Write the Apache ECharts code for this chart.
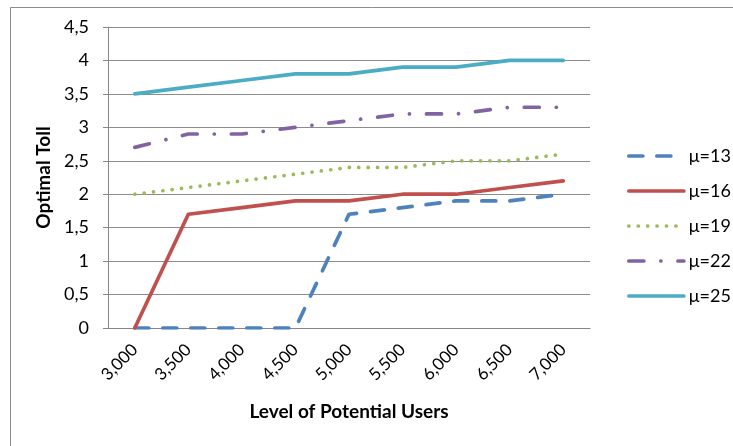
<!DOCTYPE html>
<html><head><meta charset="utf-8">
<script src="https://cdn.jsdelivr.net/npm/echarts@6/dist/echarts.min.js"></script>
<style>html,body{margin:0;padding:0;background:#fff}#c{width:733px;height:446px}</style>
</head><body><div id="c"></div>
<script>
const categories = ['3,000','3,500','4,000','4,500','5,000','5,500','6,000','6,500','7,000'];
const mu13 = [0, 0, 0, 0, 1.7, 1.8, 1.9, 1.9, 2.0];
const mu16 = [0, 1.7, 1.8, 1.9, 1.9, 2.0, 2.0, 2.1, 2.2];
const mu19 = [2.0, 2.1, 2.2, 2.3, 2.4, 2.4, 2.5, 2.5, 2.6];
const mu22 = [2.7, 2.9, 2.9, 3.0, 3.1, 3.2, 3.2, 3.3, 3.3];
const mu25 = [3.5, 3.6, 3.7, 3.8, 3.8, 3.9, 3.9, 4.0, 4.0];
const seriesNames = ['μ=13','μ=16','μ=19','μ=22','μ=25'];

const FONT = 'Lato, "Open Sans", sans-serif';
const chart = echarts.init(document.getElementById('c'), null, {renderer: 'canvas'});

function mk(name, data, color, type) {
  return {
    name, type: 'line', data, symbol: 'none', smooth: false,
    lineStyle: {color, width: 3.7, type, cap: 'round', join: 'round'},
    itemStyle: {color}
  };
}

chart.setOption({
  animation: false,
  backgroundColor: '#fff',
  graphic: [{
    type: 'rect', left: 8, top: 5, shape: {width: 740, height: 460},
    style: {fill: 'none', stroke: '#8c8c8c', lineWidth: 1}, z: -1
  }],
  grid: {left: 108, right: 143, top: 27, bottom: 118, containLabel: false},
  legend: {
    orient: 'vertical', left: 622, top: 142, itemGap: 17,
    itemWidth: 55, itemHeight: 20,
    itemStyle: {color: 'transparent', opacity: 0, borderWidth: 0},
    lineStyle: {width: 3.7, cap: 'round'},
    textStyle: {fontFamily: FONT, fontSize: 18, color: '#000'},
    data: seriesNames
  },
  xAxis: {
    type: 'category', data: categories, boundaryGap: true,
    name: 'Level of Potential Users', nameLocation: 'middle', nameGap: 74,
    nameTextStyle: {fontFamily: FONT, fontSize: 19, fontWeight: 'bold', color: '#000'},
    axisLine: {lineStyle: {color: '#868686', width: 1}},
    axisTick: {show: false},
    axisLabel: {rotate: 45, fontFamily: FONT, fontSize: 17, color: '#000', margin: 19}
  },
  yAxis: {
    type: 'value', min: 0, max: 4.5, interval: 0.5,
    name: 'Optimal Toll', nameLocation: 'middle', nameGap: 52, nameRotate: 90,
    nameTextStyle: {fontFamily: FONT, fontSize: 19, fontWeight: 'bold', color: '#000'},
    axisLine: {show: true, lineStyle: {color: '#868686', width: 1}},
    axisTick: {show: true, length: 5, inside: false, lineStyle: {color: '#868686'}},
    splitLine: {show: true, lineStyle: {color: '#8c8c8c', width: 1}},
    axisLabel: {
      fontFamily: FONT, fontSize: 18, color: '#000', margin: 19,
      formatter: v => String(v).replace('.', ',')
    }
  },
  series: [
    mk(seriesNames[0], mu13, '#4F81BD', [14, 14]),
    mk(seriesNames[1], mu16, '#C0504D', 'solid'),
    mk(seriesNames[2], mu19, '#9BBB59', [0.1, 9.3]),
    mk(seriesNames[3], mu22, '#8064A2', [15, 17, 0.1, 17]),
    mk(seriesNames[4], mu25, '#4BACC6', 'solid')
  ]
});
</script></body></html>
